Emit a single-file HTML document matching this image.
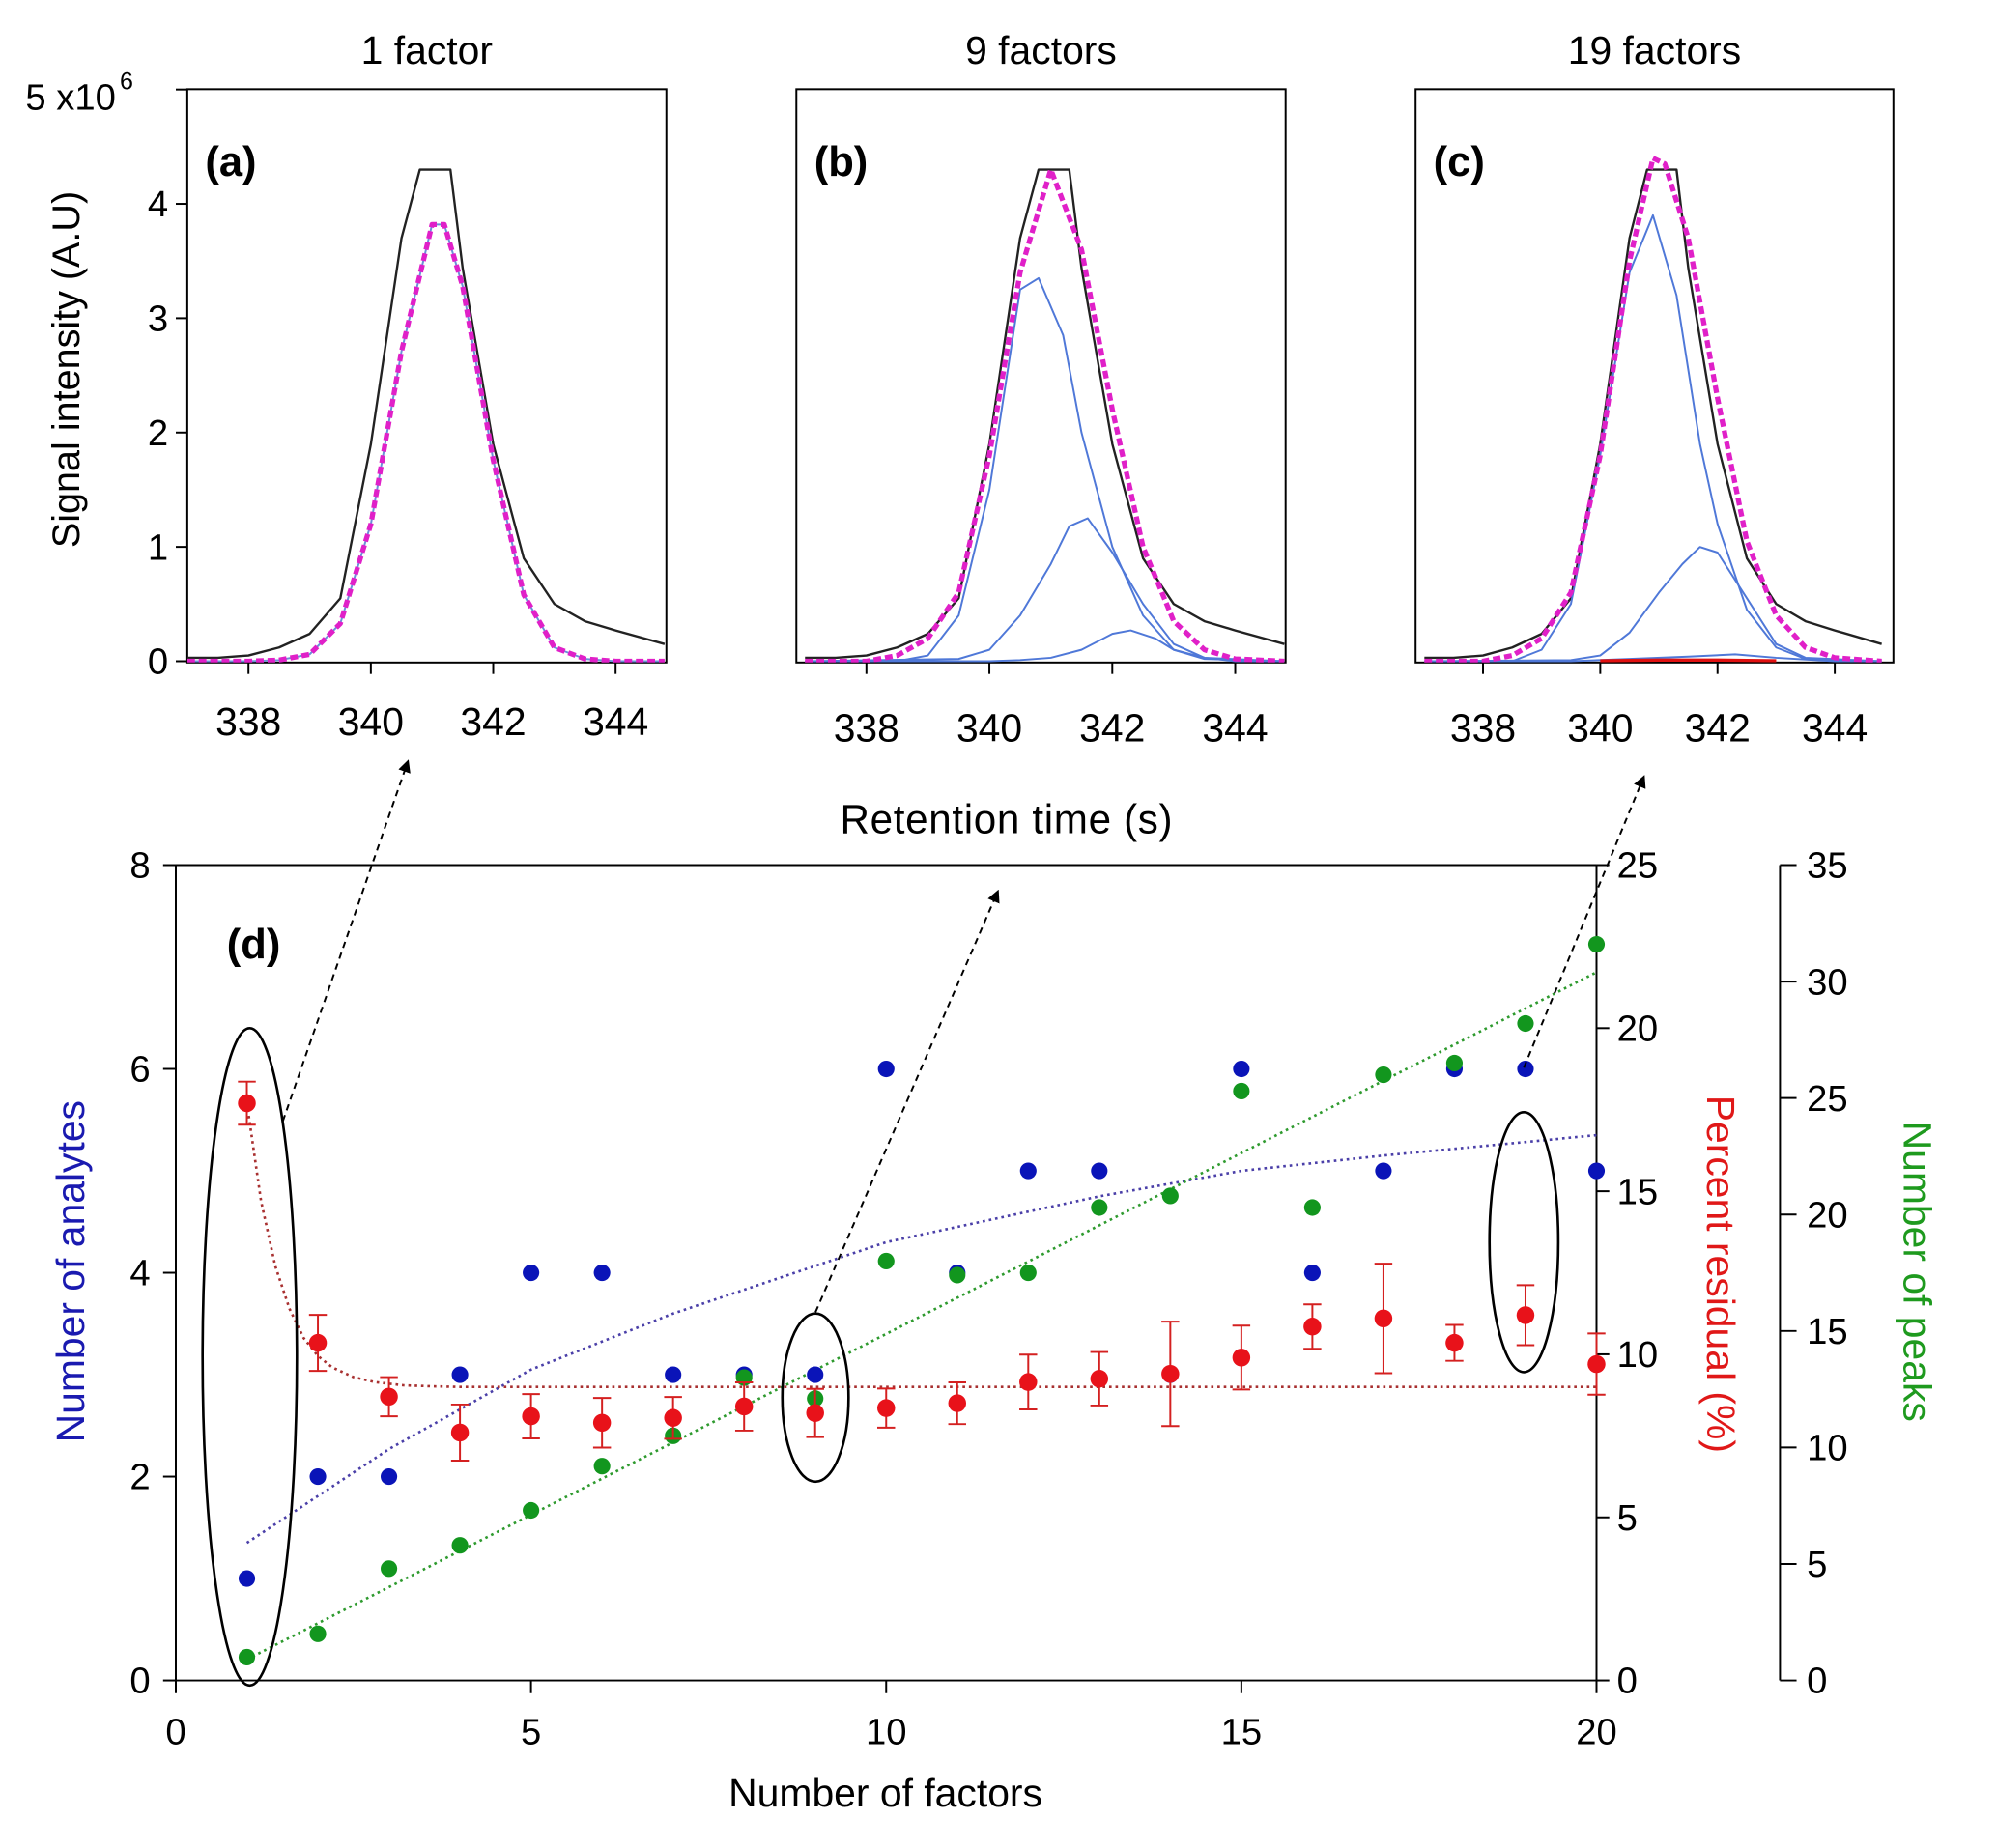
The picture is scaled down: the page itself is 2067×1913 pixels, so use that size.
<!DOCTYPE html>
<html><head><meta charset="utf-8">
<style>
html,body{margin:0;padding:0;background:#fff;}
svg{display:block;font-family:"Liberation Sans",Arial,sans-serif;}
</style></head>
<body>
<svg id="fig" width="2067" height="1913" viewBox="0 0 1567.3 1450.5" xmlns="http://www.w3.org/2000/svg">
<g id="topPanels"></g>
<g id="bottom"></g>
</svg>
<script>
// ---------- Top panel data ----------
const blackT=[337,337.5,338,338.5,339,339.5,340,340.5,340.8,341.3,341.5,342,342.5,343,343.5,344,344.8];
const blackV=[0.03,0.03,0.05,0.12,0.24,0.55,1.9,3.7,4.3,4.3,3.44,1.9,0.9,0.5,0.35,0.27,0.15];
const fitAT=[337,338,338.5,339,339.5,340,340.5,341,341.2,341.5,342,342.5,343,343.5,344,344.8];
const fitAV=[0,0,0.01,0.06,0.33,1.2,2.71,3.82,3.82,3.28,1.76,0.58,0.12,0.02,0,0];
const fitBT=[337,338,338.5,339,339.5,340,340.5,341,341.5,342,342.5,343,343.5,344,344.8];
const fitBV=[0,0,0.05,0.2,0.6,1.8,3.4,4.3,3.6,2.2,1.0,0.35,0.1,0.02,0];
const b1T=[337,338.5,339,339.5,340,340.5,340.8,341.2,341.5,342,342.5,343,343.5,344.8];
const b1V=[0,0,0.05,0.4,1.5,3.25,3.35,2.85,2.0,1.0,0.4,0.1,0.02,0];
const b2T=[337,339.5,340,340.5,341,341.3,341.6,342,342.5,343,343.5,344.8];
const b2V=[0,0.02,0.1,0.4,0.85,1.18,1.25,0.95,0.5,0.15,0.03,0];
const b3T=[337,340,340.5,341,341.5,342,342.3,342.7,343,343.5,344,344.8];
const b3V=[0,0,0.01,0.03,0.1,0.24,0.27,0.2,0.1,0.03,0,0];
const fitCT=[337,338,338.5,339,339.5,340,340.5,340.9,341.1,341.5,342,342.5,343,343.5,344,344.8];
const fitCV=[0,0,0.05,0.2,0.6,1.8,3.5,4.4,4.35,3.7,2.3,1.05,0.4,0.12,0.03,0];
const c1T=[337,338.5,339,339.5,340,340.5,340.9,341.3,341.7,342,342.5,343,343.5,344.8];
const c1V=[0,0,0.1,0.5,1.8,3.4,3.9,3.2,1.9,1.2,0.45,0.12,0.02,0];
const c2T=[337,339.5,340,340.5,341,341.4,341.7,342,342.5,343,343.5,344.8];
const c2V=[0,0.01,0.05,0.25,0.6,0.85,1.0,0.95,0.55,0.15,0.03,0];
const c3T=[337,339.5,340.5,341.5,342.3,343,344,344.8];
const c3V=[0,0,0.02,0.04,0.06,0.03,0,0];
const c4T=[340,341,342,343];
const c4V=[0.005,0.01,0.01,0.005];
const xTicks=[338,340,342,344];
const yTicks=[0,1,2,3,4];
// ---------- Bottom chart data ----------
const factors=[1,2,3,4,5,6,7,8,9,10,11,12,13,14,15,16,17,18,19,20];
const analytes=[1,2,2,3,4,4,3,3,3,6,4,5,5,3,6,4,5,6,6,5];
const residual=[17.7,10.35,8.7,7.6,8.1,7.9,8.05,8.4,8.2,8.35,8.5,9.15,9.25,9.4,9.9,10.85,11.1,10.35,11.2,9.7];
const residualErr=[0.66,0.86,0.6,0.86,0.68,0.76,0.64,0.74,0.74,0.6,0.64,0.84,0.82,1.6,0.98,0.68,1.68,0.55,0.92,0.94];
const peaks=[1,2,4.8,5.8,7.3,9.2,10.5,13,12.1,18,17.4,17.5,20.3,20.8,25.3,20.3,26,26.5,28.2,31.6];
const analyteTrendX=[1,3,5,7,10,13,15,17,20];
const analyteTrendY=[1.35,2.27,3.05,3.6,4.3,4.75,5.0,5.15,5.35];
const peakTrendX=[1,20];
const peakTrendY=[0.9,30.4];
const residTrendX=[1,1.2,1.4,1.6,1.8,2,2.2,2.5,2.8,3.2,3.6,4,20];
const residTrendY=[17.7,14.7,12.7,11.4,10.5,9.95,9.6,9.3,9.15,9.05,9.02,9.0,9.0];
const leftTicks=[0,2,4,6,8];
const xBotTicks=[0,5,10,15,20];
const residTicks=[0,5,10,15,20,25];
const peakTicks=[0,5,10,15,20,25,30,35];

const NS="http://www.w3.org/2000/svg";
function mk(parent,tag,attrs,text){const e=document.createElementNS(NS,tag);for(const k in attrs)e.setAttribute(k,attrs[k]);if(text!==undefined)e.textContent=text;parent.appendChild(e);return e;}
const topG=document.getElementById('topPanels');
const bot=document.getElementById('bottom');

// ---- top panels ----
const panels=[
 {id:'a',x0:147,x1:523,tx0:337,tx1:344.83,title:'1 factor',lbl:'(a)',labY:565,
  series:[[blackT,blackV,'#222',1.8,''],[fitAT,fitAV,'#6b8fd8',1.5,''],[fitAT,fitAV,'#e020c8',4,'6,3']]},
 {id:'b',x0:625,x1:1009,tx0:336.86,tx1:344.82,title:'9 factors',lbl:'(b)',labY:570,
  series:[[blackT,blackV,'#222',1.8,''],[b1T,b1V,'#4f78d8',1.5,''],[b2T,b2V,'#4f78d8',1.5,''],[b3T,b3V,'#4f78d8',1.5,''],[fitBT,fitBV,'#e020c8',4,'6,3']]},
 {id:'c',x0:1111,x1:1486,tx0:336.85,tx1:345.0,title:'19 factors',lbl:'(c)',labY:570,
  series:[[blackT,blackV,'#222',1.8,''],[c1T,c1V,'#4f78d8',1.5,''],[c2T,c2V,'#4f78d8',1.5,''],[c3T,c3V,'#4f78d8',1.5,''],[c4T,c4V,'#e01010',2.5,''],[fitCT,fitCV,'#e020c8',4,'6,3']]}
];
const yT0=70,yB0=520;
function ty(v){return 519-v*89.75;}
panels.forEach(p=>{
  const g=mk(topG,'g',{});
  
  
  const sx=t=>p.x0+(t-p.tx0)/(p.tx1-p.tx0)*(p.x1-p.x0);
  const cp=mk(g,'clipPath',{id:'clip'+p.id});
  mk(cp,'rect',{x:p.x0,y:yT0,width:p.x1-p.x0,height:yB0-yT0});
  const frame=mk(g,'rect',{x:p.x0,y:yT0,width:p.x1-p.x0,height:yB0-yT0,fill:'none',stroke:'#000','stroke-width':1.5});
  
  
  const title=mk(g,'text',{x:(p.x0+p.x1)/2,y:50,'font-size':31,'text-anchor':'middle'},p.title);
  
  
  const lb=mk(g,'text',{x:p.x0+14,y:138,'font-size':33,'font-weight':'bold'},p.lbl);
  
  
  xTicks.forEach(t=>{
    const x=sx(t);
    const tk=mk(g,'line',{x1:x,x2:x,y1:yB0,y2:yB0+9,stroke:'#000','stroke-width':1.5});
    
    
    const tl=mk(g,'text',{x:x,y:p.labY+12,'font-size':31,'text-anchor':'middle'},String(t));
    
    
  });
  const sg=mk(g,'g',{'clip-path':'url(#clip'+p.id+')'});
  p.series.forEach(s=>{
    const d=s[0].map((t,i)=>(i?'L':'M')+sx(t).toFixed(1)+','+ty(s[1][i]).toFixed(1)).join('');
    const pa=mk(sg,'path',{d:d,fill:'none',stroke:s[2],'stroke-width':s[3],'stroke-dasharray':s[4],'stroke-linejoin':'round'});
    
    
  });
  if(p.id==='a'){
    yTicks.forEach(v=>{
      const tk=mk(g,'line',{x1:p.x0-9,x2:p.x0,y1:ty(v),y2:ty(v),stroke:'#000','stroke-width':1.5});
      
      
      const tl=mk(g,'text',{x:p.x0-15,y:ty(v)+10,'font-size':29,'text-anchor':'end'},String(v));
      
      
    });
    mk(g,'line',{x1:p.x0-9,x2:p.x0,y1:ty(5),y2:ty(5),stroke:'#000','stroke-width':1.5});
  }
});
const expo=mk(topG,'text',{x:20,y:86,'font-size':29},'5 x10');


mk(topG,'text',{x:94,y:70,'font-size':19},'6');
const yl=mk(topG,'text',{x:0,y:0,'font-size':30,'text-anchor':'middle',transform:'translate(62,290) rotate(-90)'},'Signal intensity (A.U)');


const rt=mk(topG,'text',{x:790,y:654,'font-size':32,'text-anchor':'middle','letter-spacing':'0.5'},'Retention time (s)');



// ---- bottom chart ----
const BX0=138,BX1=1253,BY0=1319,BY1=679;
const bx=v=>BX0+v/20*(BX1-BX0);
const byL=v=>BY0-v/8*(BY0-BY1);
const byR=v=>BY0-v/25*(BY0-BY1);
const byP=v=>BY0-v/35*(BY0-BY1);
function L(g,xa,ya,xb,yb,st,w,da,name){const e=mk(g,'line',{x1:xa,y1:ya,x2:xb,y2:yb,stroke:st,'stroke-width':w||1.5,'stroke-dasharray':da||''});return e;}
L(bot,BX0,BY1,BX0,BY0,'#000',1.5,'','left-axis');
L(bot,BX0,BY0,BX1,BY0,'#000',1.5,'','x-axis');
L(bot,BX0,BY1,BX1,BY1,'#000',1.5,'','top-border');
L(bot,BX1,BY1,BX1,BY0,'#000',1.5,'','residual-axis');
L(bot,1397,BY1,1397,BY0,'#000',1.5,'','peaks-axis');
leftTicks.forEach(v=>{L(bot,BX0-10,byL(v),BX0,byL(v),'#000',1.5,'','left-tick');
  const t=mk(bot,'text',{x:BX0-20,y:byL(v)+10,'font-size':29,'text-anchor':'end'},String(v));
  
  });
xBotTicks.forEach(v=>{L(bot,bx(v),BY0,bx(v),BY0+10,'#000',1.5,'','x-tick');
  const t=mk(bot,'text',{x:bx(v),y:BY0+50,'font-size':29,'text-anchor':'middle'},String(v));
  
  });
residTicks.forEach(v=>{L(bot,BX1,byR(v),BX1+10,byR(v),'#000',1.5,'','residual-tick');
  const t=mk(bot,'text',{x:BX1+16,y:byR(v)+10,'font-size':29},String(v));
  
  });
peakTicks.forEach(v=>{L(bot,1397,byP(v),1410,byP(v),'#000',1.5,'','peaks-tick');
  const t=mk(bot,'text',{x:1418,y:byP(v)+10,'font-size':29},String(v));
  
  });
function trend(xs,ys,fy,col,name){const d=xs.map((x,i)=>(i?'L':'M')+bx(x).toFixed(1)+','+fy(ys[i]).toFixed(1)).join('');
  const e=mk(bot,'path',{d:d,fill:'none',stroke:col,'stroke-width':2,'stroke-dasharray':'2,3'});
  
  }
trend(analyteTrendX,analyteTrendY,byL,'#4a3fa8','analytes-trend');
trend(peakTrendX,peakTrendY,byP,'#2e9a2e','peaks-trend');
trend(residTrendX,residTrendY,byR,'#a83030','residual-trend');
factors.forEach((f,i)=>{
  const a=mk(bot,'circle',{cx:bx(f),cy:byL(analytes[i]),r:6.5,fill:'#0a14b8'});
  
  
  const p=mk(bot,'circle',{cx:bx(f),cy:byP(peaks[i]),r:6.5,fill:'#12961e'});
  
  
  const x=bx(f),y1=byR(residual[i]+residualErr[i]),y2=byR(residual[i]-residualErr[i]);
  L(bot,x,y1,x,y2,'#d42020',1.5,'','residual-error-bar');
  L(bot,x-7,y1,x+7,y1,'#d42020',1.5,'','residual-error-cap');
  L(bot,x-7,y2,x+7,y2,'#d42020',1.5,'','residual-error-cap');
  const r=mk(bot,'circle',{cx:x,cy:byR(residual[i]),r:7,fill:'#e8121a'});
  
  
});
[[196,1065,37,258],[640,1097,26,66],[1196,975,27,102]].forEach(e=>{
  const el=mk(bot,'ellipse',{cx:e[0],cy:e[1],rx:e[2],ry:e[3],fill:'none',stroke:'#000','stroke-width':2});
  
  });
const defs=mk(bot,'defs',{});
const mrk=mk(defs,'marker',{id:'ah',markerWidth:10,markerHeight:10,refX:8,refY:5,orient:'auto',markerUnits:'userSpaceOnUse'});
mk(mrk,'path',{d:'M0,0L10,5L0,10Z',fill:'#000'});
[[222,880,320,598],[640,1030,783,700],[1196,838,1290,610]].forEach(a=>{
  const e=mk(bot,'line',{x1:a[0],y1:a[1],x2:a[2],y2:a[3],stroke:'#000','stroke-width':1.5,'stroke-dasharray':'5,4','marker-end':'url(#ah)'});
  
  });
const dl=mk(bot,'text',{x:178,y:752,'font-size':33,'font-weight':'bold'},'(d)');


const xt=mk(bot,'text',{x:695,y:1418,'font-size':31,'text-anchor':'middle'},'Number of factors');


const at=mk(bot,'text',{x:0,y:0,'font-size':31,'text-anchor':'middle',fill:'#1a1ab0',transform:'translate(66,998) rotate(-90)'},'Number of analytes');


const pt=mk(bot,'text',{x:0,y:0,'font-size':31,'text-anchor':'middle',fill:'#e01818',transform:'translate(1340,1000) rotate(90)'},'Percent residual (%)');


const kt=mk(bot,'text',{x:0,y:0,'font-size':31,'text-anchor':'middle',fill:'#1e9a1e',transform:'translate(1494,998) rotate(90)'},'Number of peaks');


</script>
</body></html>
